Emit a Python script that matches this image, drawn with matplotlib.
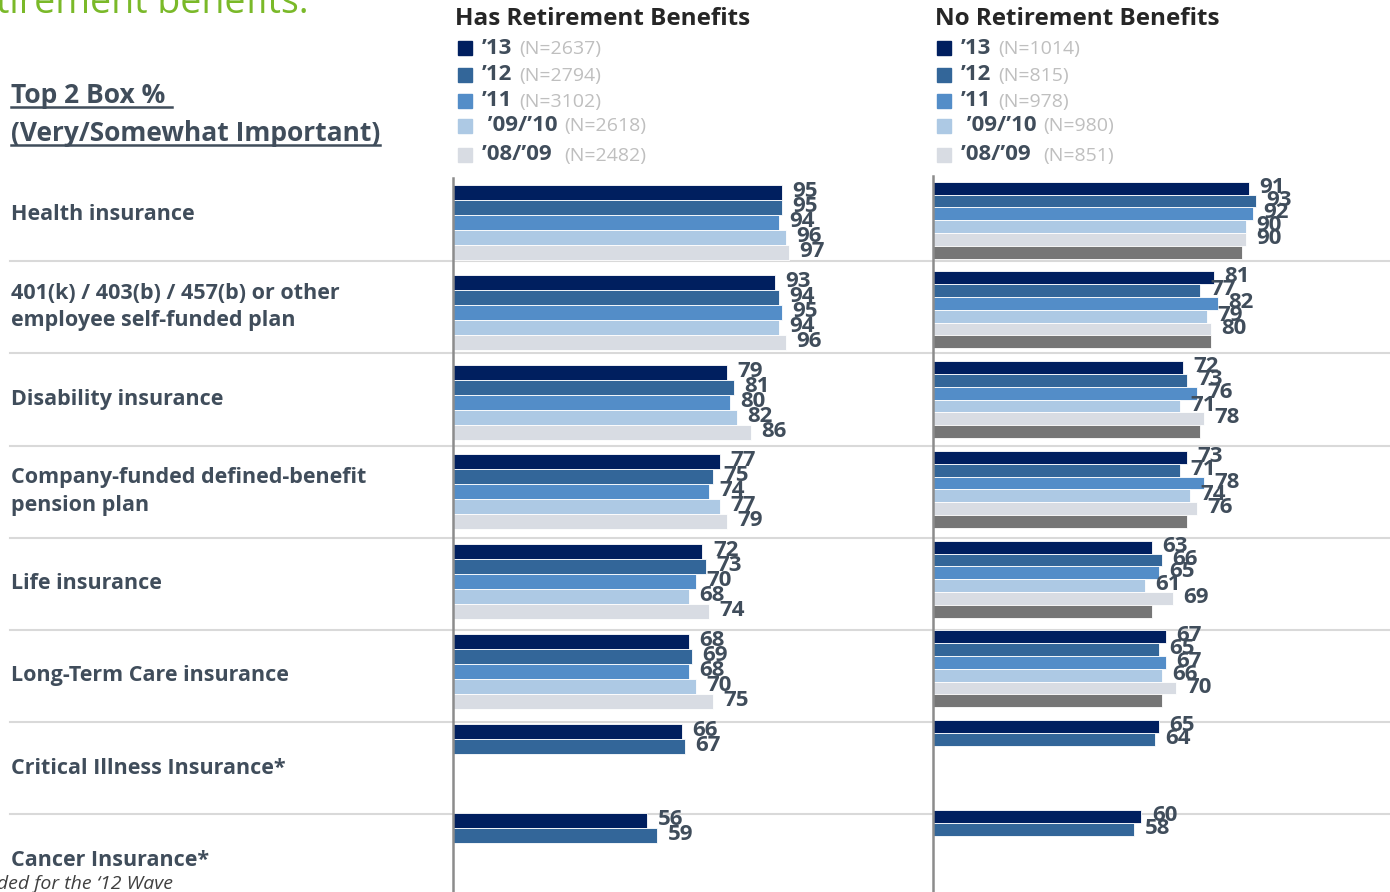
import numpy as np
import matplotlib
matplotlib.use("Agg")
import matplotlib.pyplot as plt
from matplotlib.patches import Rectangle

plt.rcParams["font.family"] = ["Open Sans", "DejaVu Sans"]

categories = [
    "Health insurance",
    "401(k) / 403(b) / 457(b) or other\nemployee self-funded plan",
    "Disability insurance",
    "Company-funded defined-benefit\npension plan",
    "Life insurance",
    "Long-Term Care insurance",
    "Critical Illness Insurance*",
    "Cancer Insurance*",
]
waves = ["’13", "’12", "’11", " ’09/’10", "’08/’09 "]
n_has = [2637, 2794, 3102, 2618, 2482]
n_no = [1014, 815, 978, 980, 851]
nan = np.nan

# Has retirement benefits, one list per wave
has_13 = [95, 93, 79, 77, 72, 68, 66, 56]
has_12 = [95, 94, 81, 75, 73, 69, 67, 59]
has_11 = [94, 95, 80, 74, 70, 68, nan, nan]
has_0910 = [96, 94, 82, 77, 68, 70, nan, nan]
has_0809 = [97, 96, 86, 79, 74, 75, nan, nan]

# No retirement benefits
no_13 = [91, 81, 72, 73, 63, 67, 65, 60]
no_12 = [93, 77, 73, 71, 66, 65, 64, 58]
no_11 = [92, 82, 76, 78, 65, 67, nan, nan]
no_0910 = [90, 79, 71, 74, 61, 66, nan, nan]
no_0809 = [90, 80, 78, 76, 69, 70, nan, nan]
no_extra = [89, 80, 77, 73, 63, 66, nan, nan]  # unlabelled dark grey bar

colors = ["#001F5F", "#336699", "#538DC8", "#ADC9E4", "#D8DCE3", "#767676"]
txt_col = "#404D5B"

W, H = 1390, 892
fig = plt.figure(figsize=(W / 100, H / 100), dpi=100)

# background axes in pixel coordinates for text / rules
bg = fig.add_axes([0, 0, 1, 1], zorder=0)
bg.set_xlim(0, W)
bg.set_ylim(H, 0)
bg.axis("off")

# row rules
for k in range(1, len(categories)):
    y = 169 + 92.2 * k
    bg.plot([10, W], [y, y], color="#D9D9D9", lw=1.5, zorder=1)

for i, c in enumerate(categories):
    bg.text(11, 215 + 92.2 * i, c, fontsize=15.5, fontweight="bold",
            color=txt_col, va="center", ha="left", linespacing=1.4)

# green title (cut off at the top) and footnote
fig.text(-0.003, 1 - 13 / H, "tirement benefits:", fontsize=27,
         color="#7AB929", va="baseline", ha="left")
bg.text(173, 889, "*Added for the ‘12 Wave", fontsize=14, style="italic",
        color="#404040", ha="right", va="baseline")

# Top 2 Box heading, underlined
fig.canvas.draw()
r = fig.canvas.get_renderer()
for y, s in [(103, "Top 2 Box % "), (141, "(Very/Somewhat Important)")]:
    t = bg.text(11, y, s, fontsize=19, fontweight="bold", color=txt_col,
                va="baseline", ha="left")
    bb = t.get_window_extent(r)
    bg.plot([bb.x0, bb.x1], [y + 4, y + 4], color=txt_col, lw=1.8)


def panel(x0, top, y0, ppu, bar_h_px, series, title, sq_x, lab_x, nvals):
    x1 = W if x0 > 700 else 920
    ax = fig.add_axes([x0 / W, 0, (x1 - x0) / W, (H - top) / H], zorder=2)
    ax.patch.set_alpha(0)
    gap = 89.75
    ax.set_xlim(0, (x1 - x0) / ppu)
    ax.set_ylim((H - y0) / gap, (top - y0) / gap)
    h = bar_h_px / gap
    idx = np.arange(len(categories))
    for k, vals in enumerate(series):
        vals = np.array(vals, dtype=float)
        yc = idx + k * h + h / 2
        ax.barh(yc, vals, height=h, color=colors[k], edgecolor="white",
                linewidth=0.6, zorder=2)
        if k < 5:
            for yy, v in zip(yc, vals):
                if not np.isnan(v):
                    ax.text(v + 3.0, yy - 0.01, f"{v:.0f}", fontsize=16,
                            fontweight="bold", color=txt_col, va="center",
                            ha="left", clip_on=False, zorder=3)
    for s in ["top", "right", "bottom"]:
        ax.spines[s].set_visible(False)
    ax.spines["left"].set_color("#8C8C8C")
    ax.spines["left"].set_linewidth(1.8)
    ax.set_xticks([])
    ax.set_yticks([])

    # header and legend
    bg.text(x0 + 2, 19, title, fontsize=17.5, fontweight="bold",
            color="#262626", va="center", ha="left")
    legend_y = [48, 75, 101, 125.5, 155]
    for k, (lab, n) in enumerate(zip(waves, nvals)):
        yc = legend_y[k]
        bg.add_patch(Rectangle((sq_x, yc - 7), 14, 14, color=colors[k], zorder=2))
        t = bg.text(lab_x, yc, lab, fontsize=16, fontweight="bold",
                    color=txt_col, va="center", ha="left")
        bb = t.get_window_extent(r)
        bg.text(bb.x1 + 7, yc + 1, f"(N={n})", fontsize=14, color="#BFBFBF",
                va="center", ha="left")
    return ax


panel(453, 178, 185, 3.465, 15.0,
      [has_13, has_12, has_11, has_0910, has_0809],
      "Has Retirement Benefits", 458, 482, n_has)
panel(933, 176, 181.7, 3.473, 12.8,
      [no_13, no_12, no_11, no_0910, no_0809, no_extra],
      "No Retirement Benefits", 937, 961, n_no)

fig.savefig("out.png", dpi=100)
